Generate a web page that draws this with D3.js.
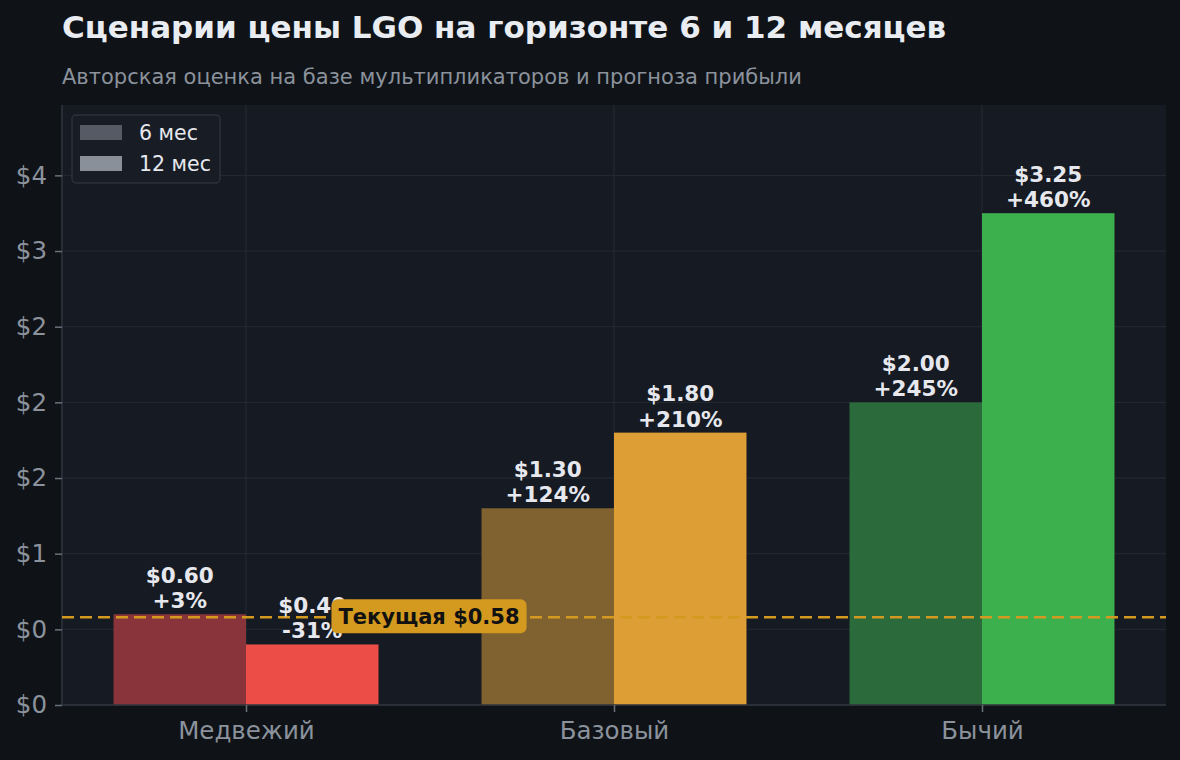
<!DOCTYPE html>
<html>
<head>
<meta charset="utf-8">
<script src="https://cdn.jsdelivr.net/npm/d3@7"></script>
<style>
  html, body { margin: 0; padding: 0; background: #0f1317; }
  svg { display: block; font-family: "DejaVu Sans", sans-serif; }
</style>
</head>
<body>
<div id="chart"></div>
<script>
// scenario data
const scenarios = ["Медвежий", "Базовый", "Бычий"];
const price6m = [0.60, 1.30, 2.00];
const price12m = [0.40, 1.80, 3.25];
const change6m = ["+3%", "+124%", "+245%"];
const change12m = ["-31%", "+210%", "+460%"];
const colors6m = ["#88343a", "#7f6230", "#2a6a3b"];
const colors12m = ["#ec4e47", "#dc9e35", "#3cb04d"];
const currentPrice = 0.58;
const yTicks = [0, 0.5, 1, 1.5, 2, 2.5, 3, 3.5];
const yTickLabels = ["$0", "$0", "$1", "$2", "$2", "$2", "$3", "$4"];
const seriesNames = ["6 мес", "12 мес"];
const legendColors = ["#555a64", "#8a9099"];

const width = 1180, height = 760;
const margin = { top: 105, right: 14, bottom: 55, left: 62 };
const barW = 0.36;

const svg = d3.select("#chart").append("svg")
  .attr("width", width)
  .attr("height", height);

svg.append("rect").attr("width", width).attr("height", height).attr("fill", "#0f1317");

const x = d3.scaleLinear()
  .domain([-0.5, scenarios.length - 0.5])
  .range([margin.left, width - margin.right]);

const y = d3.scaleLinear()
  .domain([0, d3.max(price12m.concat(price6m)) * 1.22])
  .range([height - margin.bottom, margin.top]);

// plot background
svg.append("rect")
  .attr("x", margin.left).attr("y", margin.top)
  .attr("width", width - margin.left - margin.right)
  .attr("height", height - margin.top - margin.bottom)
  .attr("fill", "#161a22");

// grid
const grid = svg.append("g");
grid.selectAll("line.h").data(yTicks).join("line")
  .attr("class", "h")
  .attr("x1", margin.left).attr("x2", width - margin.right)
  .attr("y1", d => y(d)).attr("y2", d => y(d))
  .attr("stroke", "#262a33").attr("stroke-width", 1);
grid.selectAll("line.v").data(scenarios.map((d, i) => i)).join("line")
  .attr("class", "v")
  .attr("y1", margin.top).attr("y2", height - margin.bottom)
  .attr("x1", d => x(d)).attr("x2", d => x(d))
  .attr("stroke", "#262a33").attr("stroke-width", 1);

// bars
const bars = svg.append("g");
bars.selectAll("rect.b6").data(price6m).join("rect")
  .attr("class", "b6")
  .attr("x", (d, i) => x(i - barW))
  .attr("width", x(barW) - x(0))
  .attr("y", d => y(d))
  .attr("height", d => y(0) - y(d))
  .attr("fill", (d, i) => colors6m[i]);
bars.selectAll("rect.b12").data(price12m).join("rect")
  .attr("class", "b12")
  .attr("x", (d, i) => x(i))
  .attr("width", x(barW) - x(0))
  .attr("y", d => y(d))
  .attr("height", d => y(0) - y(d))
  .attr("fill", (d, i) => colors12m[i]);

// axes
const yAxis = svg.append("g")
  .attr("transform", `translate(${margin.left},0)`)
  .call(d3.axisLeft(y).tickValues(yTicks).tickFormat((d, i) => yTickLabels[i]).tickSize(7).tickPadding(8));
const xAxis = svg.append("g")
  .attr("transform", `translate(0,${height - margin.bottom})`)
  .call(d3.axisBottom(x).tickValues(scenarios.map((d, i) => i)).tickFormat((d, i) => scenarios[i]).tickSize(7).tickPadding(10));
[yAxis, xAxis].forEach(ax => {
  ax.select(".domain").attr("stroke", "#30343c").attr("stroke-width", 1.5);
  ax.selectAll(".tick line").attr("stroke", "#6b717a").attr("stroke-width", 1.5);
  ax.selectAll(".tick text").attr("fill", "#8b929c").style("font-size", "24.5px").style("font-family", "DejaVu Sans");
});
yAxis.select(".domain").attr("d", `M0,${margin.top}V${height - margin.bottom}`);
xAxis.select(".domain").attr("d", `M${margin.left},0H${width - margin.right}`);

// current price line
svg.append("line")
  .attr("x1", margin.left).attr("x2", width - margin.right)
  .attr("y1", y(currentPrice)).attr("y2", y(currentPrice))
  .attr("stroke", "#d4991f").attr("stroke-width", 2.5)
  .attr("stroke-dasharray", "12,6");

// value labels
const labels = svg.append("g")
  .attr("text-anchor", "middle")
  .attr("fill", "#e6e8ee")
  .style("font-size", "21.5px")
  .style("font-weight", "bold");
function addLabel(cx, v, pct) {
  const t = labels.append("text").attr("x", cx).attr("y", y(v) - 6);
  t.append("tspan").attr("x", cx).attr("dy", "-1.17em").text("$" + v.toFixed(2));
  t.append("tspan").attr("x", cx).attr("dy", "1.17em").text(pct);
}
price6m.forEach((v, i) => addLabel(x(i - barW / 2), v, change6m[i]));
price12m.forEach((v, i) => addLabel(x(i + barW / 2), v, change12m[i]));

// current price tag
const tag = svg.append("g");
const tagText = tag.append("text")
  .attr("x", 429).attr("y", y(currentPrice) + 7)
  .attr("text-anchor", "middle")
  .attr("fill", "#111")
  .style("font-size", "21px")
  .style("font-weight", "bold")
  .text("Текущая $" + currentPrice.toFixed(2));
const bb = tagText.node().getBBox();
tag.insert("rect", "text")
  .attr("x", bb.x - 7).attr("y", y(currentPrice) - 18)
  .attr("width", bb.width + 14).attr("height", 34)
  .attr("rx", 6)
  .attr("fill", "#d4991f");

// legend
const legend = svg.append("g");
legend.append("rect")
  .attr("x", 72).attr("y", 115).attr("width", 148).attr("height", 68)
  .attr("rx", 4)
  .attr("fill", "#181c24").attr("stroke", "#2c3038").attr("stroke-width", 1.5);
seriesNames.forEach((name, i) => {
  legend.append("rect")
    .attr("x", 80).attr("y", 125 + i * 31).attr("width", 42).attr("height", 15)
    .attr("fill", legendColors[i]);
  legend.append("text")
    .attr("x", 139).attr("y", 140 + i * 31)
    .attr("fill", "#e6e8ee")
    .style("font-size", "20.5px")
    .text(name);
});

// titles
svg.append("text")
  .attr("x", 62).attr("y", 38)
  .attr("fill", "#e9edf2")
  .style("font-size", "31px")
  .style("font-weight", "bold")
  .text("Сценарии цены LGO на горизонте 6 и 12 месяцев");
svg.append("text")
  .attr("x", 62).attr("y", 84)
  .attr("fill", "#8b929c")
  .style("font-size", "21px")
  .text("Авторская оценка на базе мультипликаторов и прогноза прибыли");
</script>
</body>
</html>
